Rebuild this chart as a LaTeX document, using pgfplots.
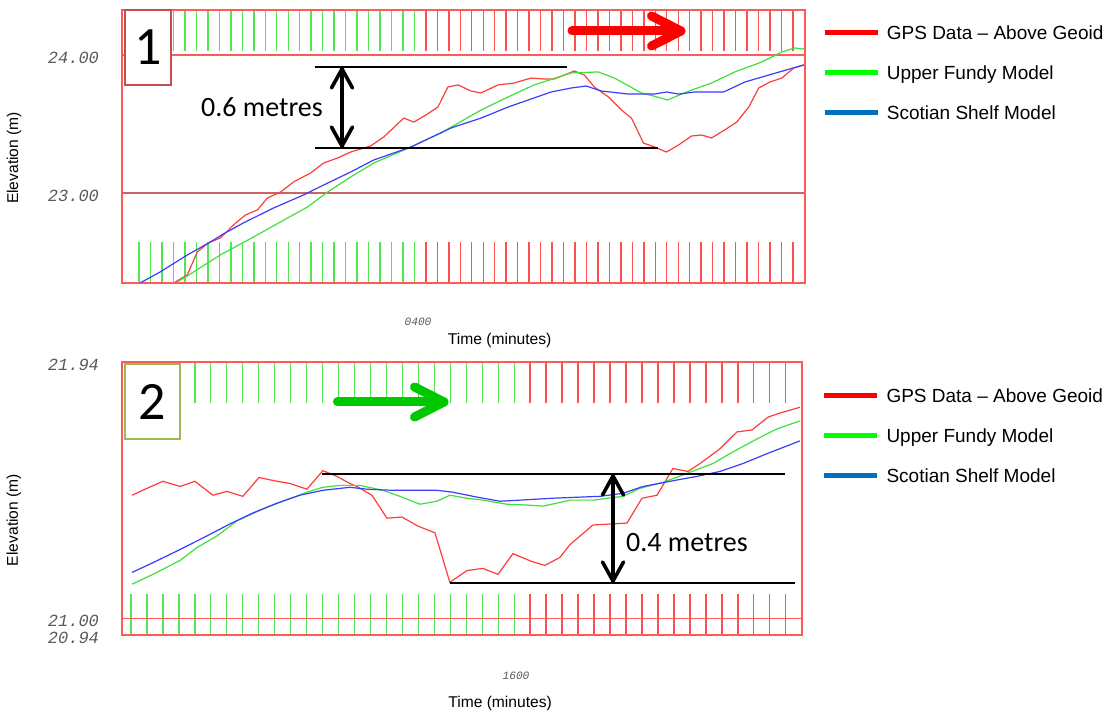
\documentclass[border=0pt]{standalone}
\usepackage{fontspec}
\setmainfont{Liberation Sans}
\newfontfamily\calib{Carlito}
\newfontfamily\tmono{Liberation Mono}
\usepackage{pgfplots}
\pgfplotsset{compat=1.18}
\definecolor{datared}{RGB}{255,60,60}
\definecolor{datagreen}{RGB}{60,225,60}
\definecolor{datablue}{RGB}{60,60,255}
\definecolor{framec}{RGB}{255,90,90}
\definecolor{tickgreen}{RGB}{80,230,80}
\definecolor{tickred}{RGB}{255,80,80}
\definecolor{darkgrid}{RGB}{205,100,100}
\definecolor{legred}{RGB}{255,0,0}
\definecolor{leggreen}{RGB}{0,255,0}
\definecolor{legblue}{RGB}{0,112,192}
\definecolor{boxred}{RGB}{192,80,77}
\definecolor{boxgreen}{RGB}{155,187,89}
\definecolor{arrred}{RGB}{255,0,0}
\definecolor{arrgreen}{RGB}{0,200,0}
\definecolor{ticklab}{RGB}{90,90,90}

\pgfplotsset{
  panel/.style={
    scale only axis,
    axis line style={draw=framec, line width=0.7pt},
    tick align=inside,
    xtick pos=both,
    major tick length=20.5pt,
    minor tick length=20.5pt,
    major tick style={color=tickgreen, line width=0.7pt},
    minor tick style={color=tickred, line width=0.7pt},
    ytick style={draw=none},
    xticklabels={},
    ymajorgrids,
    grid style={draw=framec, line width=0.7pt},
    yticklabel style={font=\tmono\itshape\fontsize{8.5}{8.5}\selectfont, text=ticklab, xshift=-8pt, yshift=-1.5pt},
    ylabel={Elevation (m)},
    xlabel={Time (minutes)},
    label style={font=\fontsize{7.8}{9}\selectfont},
    legend style={draw=none, fill=none, inner sep=0pt, anchor=north west,
      font=\fontsize{9.5}{11}\selectfont, row sep=11pt, column sep=3.5pt,
      nodes={inner sep=0pt, text height=7pt, text depth=2pt}},
    legend cell align=left,
    legend image code/.code={\draw[#1, line width=2.2pt] (0pt,0.8pt) -- (26.5pt,0.8pt);},
  },
  dat/.style={line width=0.6pt, forget plot},
}

\begin{document}
\begin{tikzpicture}
\useasboundingbox (0pt,0pt) rectangle (555pt,356pt);

% ---------------- Panel 1 ----------------
\begin{axis}[panel, at={(61pt,214.5pt)}, anchor=south west, width=341.5pt, height=136.5pt,
  xmin=-1.49, xmax=58.05, ymin=22.348, ymax=24.326,
  xtick={0,...,24}, minor xtick={25,...,57},
  ytick={24}, yticklabels={24.00},
  extra y ticks={23}, extra y tick labels={23.00},
  extra y tick style={grid style={draw=darkgrid, line width=0.7pt}, tick style={draw=none}},
  ylabel style={at={(axis description cs:-0.158,0.458)}, anchor=center},
  xlabel style={at={(axis description cs:0.553,-0.212)}, anchor=center},
  legend style={at={(1.025,0.946)}},
]
\addplot[dat, datared] coordinates {
(3.15,22.355) (4.20,22.406) (5.07,22.572) (6.03,22.638) (7.08,22.674) (8.22,22.768)
(9.27,22.841) (10.31,22.877) (11.19,22.964) (12.33,23.007) (13.46,23.080) (14.95,23.145)
(16.08,23.217) (17.31,23.254) (18.44,23.297) (20.19,23.341) (21.33,23.406) (23.08,23.543)
(23.95,23.514) (25.00,23.565) (26.05,23.623) (26.92,23.768) (27.80,23.783) (28.93,23.739)
(29.81,23.725) (31.29,23.783) (32.69,23.797) (34.18,23.833) (35.31,23.826) (36.19,23.826)
(37.94,23.884) (38.81,23.855) (39.69,23.768) (40.91,23.696) (42.05,23.601) (42.92,23.543)
(43.97,23.362) (44.93,23.333) (45.98,23.297) (47.03,23.348) (48.16,23.413) (49.04,23.420)
(49.91,23.399) (51.05,23.457) (52.10,23.514) (53.15,23.623) (54.02,23.761) (54.98,23.804)
(56.03,23.833) (57.08,23.906) (57.95,23.928)
};
\addplot[dat, datagreen] coordinates {
(3.32,22.355) (4.20,22.399) (7.08,22.551) (9.97,22.681) (12.94,22.819) (14.69,22.899)
(16.43,23.007) (18.44,23.116) (20.45,23.217) (23.69,23.333) (26.31,23.435) (29.81,23.601)
(32.17,23.696) (34.44,23.783) (37.67,23.870) (40.03,23.877) (41.43,23.833) (43.79,23.725)
(44.84,23.703) (46.07,23.674) (48.16,23.746) (49.91,23.797) (51.92,23.877) (54.28,23.949)
(56.03,24.022) (57.17,24.051) (57.95,24.043)
};
\addplot[dat, datablue] coordinates {
(0.09,22.348) (1.84,22.428) (4.20,22.551) (6.21,22.645) (7.34,22.703) (9.09,22.783)
(11.71,22.891) (14.34,22.986) (16.43,23.072) (18.44,23.152) (20.45,23.239) (23.69,23.333)
(27.19,23.471) (29.81,23.543) (32.17,23.623) (33.92,23.674) (35.93,23.732) (37.67,23.761)
(38.99,23.775) (40.30,23.739) (42.66,23.717) (44.93,23.717) (45.98,23.732) (47.03,23.717)
(48.43,23.732) (50.96,23.732) (52.80,23.804) (54.90,23.855) (57.95,23.928)
};
\addlegendimage{legred}\addlegendentry{GPS Data – Above Geoid}
\addlegendimage{leggreen}\addlegendentry{Upper Fundy Model}
\addlegendimage{legblue}\addlegendentry{Scotian Shelf Model}
\end{axis}

% ---------------- Panel 2 ----------------
\begin{axis}[panel, at={(61pt,38.5pt)}, anchor=south west, width=340pt, height=136.5pt,
  xmin=-0.56, xmax=42.02, ymin=20.94, ymax=21.94,
  xtick={0,...,24}, minor xtick={25,...,41},
  ytick={20.94,21.94}, yticklabels={20.94,21.94},
  extra y ticks={21}, extra y tick labels={21.00},
  extra y tick style={tick style={draw=none}, yticklabel style={yshift=0.3pt}},
  ylabel style={at={(axis description cs:-0.159,0.421)}, anchor=center},
  xlabel style={at={(axis description cs:0.556,-0.249)}, anchor=center},
  legend style={at={(1.029,0.906)}},
]
\addplot[dat, datared] coordinates {
(0.06,21.452) (1.00,21.477) (2.00,21.503) (3.07,21.484) (4.01,21.503) (5.13,21.452)
(6.01,21.466) (7.01,21.448) (8.02,21.517) (9.14,21.503) (9.96,21.495) (11.02,21.474)
(12.02,21.542) (12.90,21.521) (13.71,21.495) (14.15,21.484) (15.09,21.452) (16.03,21.368)
(16.97,21.372) (17.97,21.339) (19.04,21.314) (19.97,21.133) (21.04,21.176) (22.04,21.184)
(22.98,21.162) (23.92,21.238) (25.11,21.209) (25.92,21.195) (26.86,21.224) (27.49,21.271)
(28.93,21.343) (31.06,21.350) (32.00,21.441) (32.94,21.452) (33.94,21.550) (34.88,21.539)
(35.63,21.568) (36.88,21.622) (37.95,21.684) (38.89,21.691) (39.89,21.738) (40.64,21.753)
(41.89,21.774)
};
\addplot[dat, datagreen] coordinates {
(0.06,21.126) (1.38,21.162) (3.07,21.213) (4.13,21.260) (5.39,21.303) (6.64,21.358)
(8.08,21.397) (9.52,21.430) (11.02,21.463) (12.02,21.481) (13.09,21.488) (14.34,21.488)
(15.78,21.470) (16.84,21.448) (18.10,21.419) (19.16,21.430) (19.97,21.452) (21.04,21.441)
(22.04,21.434) (23.54,21.419) (24.80,21.416) (25.80,21.412) (26.67,21.423) (27.49,21.434)
(28.93,21.434) (30.81,21.448) (31.87,21.477) (33.31,21.499) (34.82,21.532) (36.44,21.568)
(37.70,21.611) (39.20,21.658) (40.45,21.695) (41.89,21.724)
};
\addplot[dat, datablue] coordinates {
(0.06,21.169) (1.38,21.205) (3.07,21.253) (4.76,21.303) (6.20,21.347) (7.64,21.387)
(9.14,21.423) (10.58,21.452) (12.02,21.470) (13.71,21.481) (14.78,21.474) (16.41,21.470)
(19.16,21.470) (20.16,21.463) (21.67,21.445) (23.11,21.430) (24.36,21.434) (26.42,21.441)
(29.37,21.448) (30.81,21.459) (32.06,21.484) (33.75,21.503) (35.44,21.521) (36.88,21.539)
(38.32,21.568) (39.82,21.604) (41.89,21.651)
};
\addlegendimage{legred}\addlegendentry{GPS Data – Above Geoid}
\addlegendimage{leggreen}\addlegendentry{Upper Fundy Model}
\addlegendimage{legblue}\addlegendentry{Scotian Shelf Model}
\end{axis}

% ---------------- Annotations ----------------
% time tick labels
\node[font=\tmono\itshape\fontsize{5.6}{5.6}\selectfont, text=ticklab] at (209pt,195pt) {0400};
\node[font=\tmono\itshape\fontsize{5.6}{5.6}\selectfont, text=ticklab] at (258pt,18pt) {1600};

% numbered boxes
\node[draw=boxred, line width=1.3pt, fill=white, minimum width=23pt, minimum height=37.5pt,
  inner sep=0pt, font=\calib\fontsize{27}{27}\selectfont] at (74pt,332.25pt) {1};
\node[draw=boxgreen, line width=1.3pt, fill=white, minimum width=27.5pt, minimum height=37.5pt,
  inner sep=0pt, font=\calib\fontsize{27}{27}\selectfont] at (76.25pt,155.25pt) {2};

% direction arrows
\draw[arrred, line width=4.5pt, line cap=round, line join=round] (286pt,340.5pt) -- (340pt,340.5pt);
\draw[arrred, line width=4.5pt, line cap=round, line join=round] (325.75pt,348pt) -- (340.5pt,340.5pt) -- (325.75pt,333pt);
\draw[arrgreen, line width=4.5pt, line cap=round, line join=round] (168.75pt,155pt) -- (221.75pt,155pt);
\draw[arrgreen, line width=4.5pt, line cap=round, line join=round] (207.25pt,162.5pt) -- (222pt,155pt) -- (207.25pt,147.5pt);

% measurement panel 1
\draw[black, line width=1.2pt] (157.5pt,322.5pt) -- (283.5pt,322.5pt);
\draw[black, line width=1.2pt] (157.5pt,282pt) -- (329pt,282pt);
\draw[black, line width=1.8pt, line cap=round, line join=round] (171pt,321.5pt) -- (171pt,283pt);
\draw[black, line width=1.8pt, line cap=round, line join=round] (165.75pt,312pt) -- (171pt,321.5pt) -- (176.25pt,312pt);
\draw[black, line width=1.8pt, line cap=round, line join=round] (165.75pt,292.5pt) -- (171pt,283pt) -- (176.25pt,292.5pt);
\node[font=\calib\fontsize{14}{14}\selectfont] at (131pt,302.25pt) {0.6 metres};

% measurement panel 2
\draw[black, line width=1.2pt] (161pt,119pt) -- (392.5pt,119pt);
\draw[black, line width=1.2pt] (225pt,64.5pt) -- (397.5pt,64.5pt);
\draw[black, line width=1.8pt, line cap=round, line join=round] (306.5pt,118pt) -- (306.5pt,65.5pt);
\draw[black, line width=1.8pt, line cap=round, line join=round] (301.25pt,108.5pt) -- (306.5pt,118pt) -- (311.75pt,108.5pt);
\draw[black, line width=1.8pt, line cap=round, line join=round] (301.25pt,75pt) -- (306.5pt,65.5pt) -- (311.75pt,75pt);
\node[font=\calib\fontsize{14}{14}\selectfont] at (343.5pt,84.5pt) {0.4 metres};
\end{tikzpicture}
\end{document}
